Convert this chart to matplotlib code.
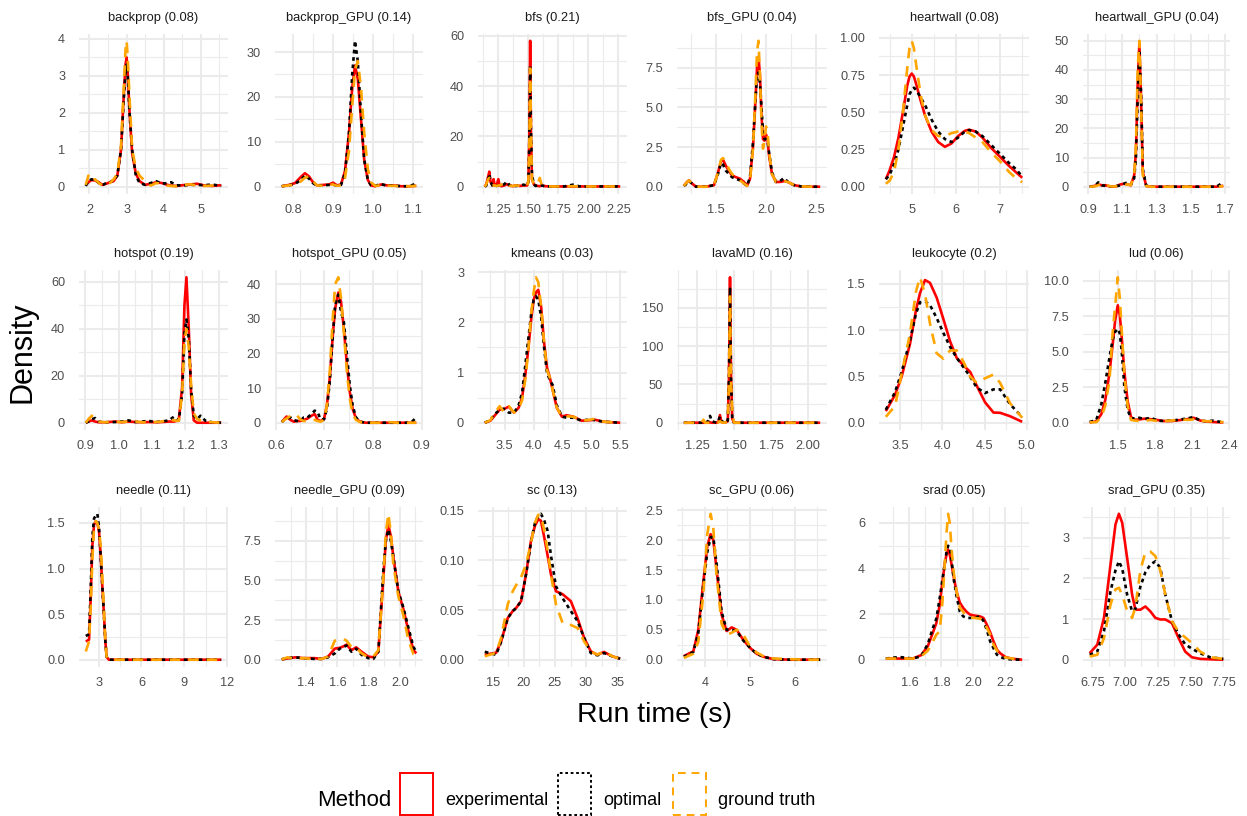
import matplotlib
matplotlib.use("Agg")
import matplotlib.pyplot as plt
from matplotlib.patches import Rectangle

plt.rcParams['font.family'] = ['Liberation Sans', 'DejaVu Sans']

# ---------------------------------------------------------------- data
benchmarks = ["backprop", "backprop_GPU", "bfs", "bfs_GPU", "heartwall", "heartwall_GPU",
              "hotspot", "hotspot_GPU", "kmeans", "lavaMD", "leukocyte", "lud",
              "needle", "needle_GPU", "sc", "sc_GPU", "srad", "srad_GPU"]
scores = ["0.08", "0.14", "0.21", "0.04", "0.08", "0.04",
          "0.19", "0.05", "0.03", "0.16", "0.2", "0.06",
          "0.11", "0.09", "0.13", "0.06", "0.05", "0.35"]
methods = ["experimental", "optimal", "ground truth"]

backprop_x = [1.9, 1.97, 2.05, 2.15, 2.25, 2.35, 2.45, 2.55, 2.65, 2.75, 2.85, 2.92, 2.97, 3.0, 3.03, 3.08,
              3.15, 3.25, 3.35, 3.5, 3.65, 3.8, 3.95, 4.1, 4.2, 4.35, 4.5, 4.7, 4.9, 5.1, 5.3, 5.55]
backprop_exp = [0.05, 0.12, 0.18, 0.17, 0.12, 0.05, 0.08, 0.12, 0.15, 0.3, 1.0, 2.4, 3.3, 3.5, 3.1, 2.0,
                0.9, 0.35, 0.15, 0.05, 0.08, 0.12, 0.1, 0.05, 0.03, 0.02, 0.04, 0.06, 0.08, 0.03, 0.02, 0.04]
backprop_opt = [0.02, 0.15, 0.2, 0.18, 0.1, 0.04, 0.1, 0.12, 0.18, 0.3, 1.0, 2.3, 3.1, 3.3, 3.0, 2.0,
                1.0, 0.3, 0.1, 0.05, 0.1, 0.15, 0.08, 0.1, 0.12, 0.04, 0.03, 0.05, 0.05, 0.04, 0.06, 0.02]
backprop_gt = [0.05, 0.3, 0.15, 0.2, 0.1, 0.03, 0.05, 0.1, 0.2, 0.35, 1.1, 2.6, 3.7, 3.95, 3.5, 2.4,
               1.0, 0.5, 0.3, 0.15, 0.03, 0.1, 0.08, 0.03, 0.02, 0.01, 0.03, 0.07, 0.03, 0.02, 0.03, 0.02]

backpropgpu_x = [0.772, 0.79, 0.805, 0.82, 0.83, 0.84, 0.85, 0.86, 0.875, 0.89, 0.9, 0.91, 0.92, 0.93, 0.94,
                 0.948, 0.955, 0.962, 0.97, 0.978, 0.987, 0.995, 1.005, 1.02, 1.035, 1.05, 1.07, 1.09, 1.108]
backpropgpu_exp = [0.1, 0.4, 0.8, 2.2, 3.0, 2.3, 1.0, 0.3, 0.4, 0.5, 0.9, 0.3, 0.5, 3.5, 12,
                   22, 27, 24, 15, 6, 1.5, 0.3, 0.1, 0.5, 0.3, 0.3, 0.1, 0.1, 0.2]
backpropgpu_opt = [0.1, 0.3, 0.6, 1.5, 2.5, 1.8, 0.8, 0.2, 0.3, 0.4, 0.5, 0.2, 0.4, 3.0, 12,
                   25, 32.5, 28, 16, 6, 1.5, 0.3, 0.2, 0.6, 0.2, 0.3, 0.1, 0.1, 0.7]
backpropgpu_gt = [0.1, 0.3, 0.5, 1.2, 2.0, 2.3, 1.2, 0.3, 0.2, 0.4, 0.5, 0.2, 0.3, 2.0, 8,
                  18, 26, 28, 22, 12, 4, 1.0, 0.2, 0.3, 0.2, 0.2, 0.1, 0.1, 0.2]

bfs_x = [1.137, 1.15, 1.165, 1.175, 1.185, 1.2, 1.21, 1.22, 1.235, 1.25, 1.26, 1.275, 1.3, 1.32, 1.34, 1.37,
         1.4, 1.43, 1.46, 1.49, 1.5, 1.508, 1.515, 1.522, 1.53, 1.545, 1.56, 1.58, 1.595, 1.61, 1.64, 1.7,
         1.8, 1.87, 1.93, 2.0, 2.1, 2.2, 2.265]
bfs_exp = [0, 1, 4, 6, 2, 0.5, 3, 0.5, 0.5, 3, 0.5, 0.2, 0.5, 1, 0.5, 0.2,
           0.5, 0.3, 0.5, 0.5, 2, 20, 58, 20, 3, 1, 0.5, 0.3, 0.2, 0.5, 0.2, 0.1,
           0.1, 0.1, 0.1, 0.1, 0.1, 0.1, 0.1]
bfs_opt = [0, 0.5, 3, 5, 2, 0.5, 0.8, 0.5, 0.3, 0.5, 0.3, 0.5, 1, 2, 0.8, 0.2,
           0.3, 0.5, 0.8, 0.5, 2, 18, 48, 22, 5, 1, 0.3, 0.5, 0.3, 0.5, 0.2, 0.1,
           0.1, 0.8, 0.1, 0.1, 0.1, 0.1, 0.1]
bfs_gt = [0, 1, 3, 3.5, 1.5, 0.5, 0.5, 0.5, 0.3, 0.5, 0.5, 0.8, 1.5, 1.5, 0.5, 0.3,
          0.5, 0.3, 0.5, 0.5, 2, 16, 47, 20, 3, 1, 0.5, 1.5, 3.5, 0.8, 0.2, 0.1,
          0.1, 0.2, 0.1, 0.1, 0.1, 0.1, 0.1]

bfsgpu_x = [1.178, 1.21, 1.23, 1.26, 1.3, 1.4, 1.48, 1.52, 1.55, 1.57, 1.6, 1.63, 1.66, 1.7, 1.74, 1.78,
            1.81, 1.84, 1.87, 1.895, 1.91, 1.925, 1.94, 1.955, 1.97, 1.985, 2.0, 2.015, 2.03, 2.06, 2.1,
            2.14, 2.18, 2.22, 2.28, 2.35, 2.45, 2.542]
bfsgpu_exp = [0.05, 0.3, 0.4, 0.2, 0, 0, 0.1, 0.9, 1.6, 1.7, 1.3, 1.0, 0.7, 0.6, 0.5, 0.3,
              0.05, 0.5, 2.5, 5.5, 7.5, 8.2, 7.0, 4.5, 3.0, 2.9, 3.3, 3.0, 2.0, 0.8, 0.3,
              0.3, 0.35, 0.3, 0.1, 0.02, 0, 0]
bfsgpu_opt = [0.05, 0.2, 0.35, 0.2, 0, 0, 0.1, 0.8, 1.5, 1.4, 1.0, 0.8, 0.6, 0.5, 0.4, 0.2,
              0.05, 0.6, 2.8, 5.5, 7.0, 7.2, 6.5, 5.0, 3.5, 3.0, 3.0, 2.9, 2.2, 0.9, 0.3,
              0.35, 0.55, 0.3, 0.1, 0.02, 0, 0]
bfsgpu_gt = [0.05, 0.3, 0.4, 0.2, 0, 0, 0.1, 0.9, 1.7, 1.8, 1.5, 1.1, 0.8, 0.6, 0.4, 0.2,
             0.05, 0.4, 2.4, 6.0, 8.5, 9.2, 7.0, 4.0, 2.4, 3.0, 3.8, 3.5, 2.2, 0.8, 0.3,
             0.3, 0.35, 0.3, 0.1, 0.02, 0, 0]

heartwall_x = [4.414, 4.5, 4.6, 4.7, 4.8, 4.9, 4.95, 5.0, 5.05, 5.1, 5.2, 5.3, 5.45, 5.6, 5.75, 5.9,
               6.05, 6.2, 6.3, 6.45, 6.6, 6.8, 7.0, 7.2, 7.35, 7.5]
heartwall_exp = [0.05, 0.11, 0.2, 0.33, 0.5, 0.68, 0.74, 0.76, 0.74, 0.69, 0.58, 0.48, 0.37, 0.3, 0.268, 0.29,
                 0.34, 0.375, 0.383, 0.37, 0.33, 0.26, 0.2, 0.14, 0.1, 0.06]
heartwall_opt = [0.05, 0.08, 0.15, 0.25, 0.4, 0.55, 0.62, 0.65, 0.665, 0.65, 0.6, 0.55, 0.45, 0.37, 0.32, 0.3,
                 0.33, 0.37, 0.38, 0.37, 0.34, 0.28, 0.22, 0.16, 0.12, 0.07]
heartwall_gt = [0.02, 0.04, 0.1, 0.25, 0.5, 0.8, 0.93, 0.98, 0.93, 0.82, 0.62, 0.48, 0.38, 0.34, 0.34, 0.36,
                0.37, 0.37, 0.36, 0.33, 0.3, 0.23, 0.17, 0.1, 0.06, 0.03]

heartwallgpu_x = [0.91, 0.94, 0.96, 0.98, 1.0, 1.03, 1.06, 1.09, 1.11, 1.13, 1.15, 1.17, 1.18, 1.19, 1.2, 1.21,
                  1.22, 1.24, 1.27, 1.35, 1.45, 1.55, 1.65, 1.69]
heartwallgpu_exp = [0, 0.3, 0.8, 0.5, 0.5, 0.1, 0.1, 0.8, 1.0, 0.8, 0.5, 4, 12, 35, 49, 30,
                    5, 0.3, 0, 0, 0, 0, 0, 0.3]
heartwallgpu_opt = [0, 0.2, 1.5, 0.5, 0.3, 0.1, 0.1, 0.5, 1.0, 1.5, 0.6, 3, 10, 30, 46, 32,
                    6, 0.3, 0, 0, 0, 0, 0, 1.5]
heartwallgpu_gt = [0, 0.1, 0.5, 1.2, 0.8, 0.1, 0.1, 0.3, 0.6, 0.8, 0.5, 4, 14, 40, 50, 28,
                   4, 0.2, 0, 0, 0, 0, 0, 0.2]

hotspot_x = [0.902, 0.91, 0.92, 0.93, 0.94, 0.96, 0.99, 1.01, 1.03, 1.05, 1.07, 1.09, 1.11, 1.13, 1.15, 1.165,
             1.18, 1.19, 1.197, 1.203, 1.21, 1.217, 1.225, 1.235, 1.245, 1.26, 1.28, 1.307]
hotspot_exp = [0, 0.5, 1, 0.5, 0.2, 0.2, 0.5, 0.2, 0.5, 0.3, 0.2, 0.3, 0.2, 0.3, 0.5, 0.5,
               1, 15, 50, 62, 40, 12, 1, 0, 0, 0, 0, 0]
hotspot_opt = [0, 0.5, 1.5, 2.0, 0.5, 0.2, 0.3, 0.5, 1.0, 0.3, 0.5, 0.8, 0.3, 0.5, 1, 2.5,
               1, 12, 38, 44, 36, 14, 3, 1.5, 3, 0.8, 0.2, 0]
hotspot_gt = [0, 1.5, 3, 1.0, 0.5, 0.2, 0.3, 0.3, 0.5, 0.5, 0.2, 0.2, 0.3, 0.5, 1.5, 1.0,
              0.8, 12, 35, 40, 32, 16, 4, 1.5, 1, 0.5, 0.2, 0]

hotspotgpu_x = [0.612, 0.617, 0.622, 0.63, 0.637, 0.643, 0.65, 0.657, 0.665, 0.673, 0.68, 0.686, 0.692, 0.699,
                0.705, 0.711, 0.717, 0.722, 0.7285, 0.734, 0.74, 0.746, 0.752, 0.758, 0.765, 0.773, 0.785,
                0.81, 0.83, 0.85, 0.87, 0.88, 0.889]
hotspotgpu_exp = [0.2, 1.0, 1.8, 0.8, 0.3, 0.5, 0.5, 0.8, 1.2, 2.0, 2.5, 0.8, 0.5, 1.0,
                  5, 13, 25, 33, 37.6, 35, 27, 17, 9, 4, 1.2, 0.3, 0, 0, 0, 0, 0, 0, 0]
hotspotgpu_opt = [0.2, 0.8, 1.2, 1.5, 0.8, 0.5, 0.5, 1.5, 1.5, 2.5, 3.5, 3.0, 1.0, 1.0,
                  4, 12, 25, 34, 37, 32, 29, 20, 11, 5, 1.5, 0.3, 0, 0, 0, 0, 0, 0.3, 1.5]
hotspotgpu_gt = [0.2, 0.8, 1.2, 2.0, 2.5, 2.2, 1.0, 0.5, 0.5, 0.8, 0.8, 0.5, 0.3, 0.8,
                 5, 15, 30, 40, 42, 36, 26, 15, 7, 2.5, 0.8, 0.2, 0, 0, 0.2, 0, 0, 0, 0]

kmeans_x = [3.153, 3.25, 3.33, 3.41, 3.48, 3.57, 3.66, 3.74, 3.8, 3.86, 3.91, 3.96, 4.0, 4.04, 4.08,
            4.13, 4.18, 4.23, 4.28, 4.33, 4.4, 4.49, 4.57, 4.69, 4.83, 4.98, 5.06, 5.21, 5.35, 5.499]
kmeans_exp = [0.0, 0.04, 0.15, 0.26, 0.27, 0.32, 0.2, 0.3, 0.5, 1.0, 1.5, 2.1, 2.45, 2.6, 2.65,
              2.3, 1.6, 1.1, 0.9, 0.65, 0.3, 0.12, 0.15, 0.12, 0.04, 0.05, 0.06, 0.02, 0.01, 0.0]
kmeans_opt = [0.0, 0.05, 0.18, 0.25, 0.28, 0.2, 0.2, 0.35, 0.6, 1.2, 1.7, 2.2, 2.45, 2.52, 2.45,
              2.1, 1.5, 1.0, 0.85, 0.75, 0.35, 0.12, 0.1, 0.1, 0.04, 0.07, 0.05, 0.02, 0.01, 0.0]
kmeans_gt = [0.0, 0.05, 0.2, 0.33, 0.22, 0.33, 0.2, 0.28, 0.45, 0.9, 1.5, 2.2, 2.6, 2.9, 2.8,
             2.3, 1.6, 1.05, 0.9, 0.65, 0.3, 0.12, 0.13, 0.12, 0.04, 0.06, 0.08, 0.02, 0.01, 0.0]

lavamd_x = [1.161, 1.25, 1.28, 1.293, 1.305, 1.325, 1.338, 1.35, 1.38, 1.395, 1.405, 1.415, 1.44, 1.458,
            1.466, 1.473, 1.48, 1.488, 1.5, 1.55, 1.7, 1.9, 2.082]
lavamd_exp = [0, 0, 0, 0, 0, 0, 0.5, 0, 0, 1, 10, 1, 0, 2, 60, 190, 60, 5, 0, 0, 0, 0, 0]
lavamd_opt = [0, 0, 0, 0.5, 0, 2, 9, 2, 0, 3, 8, 2, 0, 3, 60, 175, 55, 5, 0, 0, 0, 0, 0]
lavamd_gt = [0, 0, 0, 4, 0, 0, 0, 0, 0, 0.5, 2, 0.5, 0, 3, 55, 165, 50, 15, 0, 0, 0, 0, 0]

leukocyte_x = [3.332, 3.441, 3.520, 3.618, 3.690, 3.737, 3.796, 3.855, 3.934, 4.013, 4.092, 4.171, 4.250,
               4.329, 4.408, 4.507, 4.606, 4.685, 4.803, 4.946]
leukocyte_exp = [0.125, 0.3, 0.5, 0.85, 1.22, 1.4, 1.54, 1.51, 1.35, 1.12, 0.88, 0.7, 0.62,
                 0.55, 0.4, 0.22, 0.11, 0.107, 0.07, 0.01]
leukocyte_opt = [0.14, 0.33, 0.55, 0.89, 1.18, 1.3, 1.31, 1.27, 1.13, 0.97, 0.82, 0.7, 0.6,
                 0.5, 0.38, 0.32, 0.36, 0.36, 0.2, 0.06]
leukocyte_gt = [0.064, 0.18, 0.53, 0.96, 1.42, 1.57, 1.39, 1.07, 0.75, 0.69, 0.78, 0.78, 0.66,
                0.5, 0.43, 0.48, 0.52, 0.43, 0.21, 0.053]

lud_x = [1.273, 1.327, 1.367, 1.399, 1.433, 1.46, 1.479, 1.5, 1.516, 1.532, 1.553, 1.58, 1.607, 1.639,
         1.673, 1.713, 1.767, 1.82, 1.873, 1.94, 2.007, 2.06, 2.113, 2.167, 2.22, 2.273, 2.313, 2.353]
lud_exp = [0.02, 0.1, 0.6, 1.6, 3.5, 5.6, 7.2, 8.26, 7.6, 6.0, 3.6, 1.5, 0.4, 0.2,
           0.23, 0.28, 0.25, 0.19, 0.12, 0.12, 0.19, 0.25, 0.35, 0.15, 0.08, 0.05, 0.03, 0.02]
lud_opt = [0.05, 0.2, 1.3, 2.8, 4.6, 5.9, 6.4, 6.6, 6.3, 5.0, 2.56, 0.9, 0.3, 0.3,
           0.35, 0.25, 0.35, 0.15, 0.12, 0.15, 0.23, 0.3, 0.4, 0.15, 0.1, 0.15, 0.08, 0.05]
lud_gt = [0.03, 0.04, 0.4, 1.2, 3.0, 6.5, 8.2, 10.23, 8.8, 6.5, 3.4, 1.16, 0.2, 0.15,
          0.12, 0.15, 0.19, 0.12, 0.12, 0.15, 0.23, 0.2, 0.23, 0.15, 0.1, 0.1, 0.06, 0.05]

needle_x = [2.1, 2.33, 2.45, 2.56, 2.68, 2.8, 2.91, 3.03, 3.14, 3.26, 3.37, 3.47, 3.56, 3.72, 5, 7, 9, 11.58]
needle_exp = [0.2, 0.22, 0.7, 1.25, 1.48, 1.52, 1.5, 1.4, 1.15, 0.8, 0.5, 0.2, 0.03, 0, 0, 0, 0, 0]
needle_opt = [0.26, 0.28, 0.8, 1.35, 1.55, 1.58, 1.6, 1.45, 1.15, 0.8, 0.5, 0.2, 0.03, 0, 0, 0, 0, 0]
needle_gt = [0.09, 0.2, 0.6, 1.1, 1.45, 1.52, 1.5, 1.42, 1.25, 0.9, 0.55, 0.2, 0.03, 0, 0, 0, 0, 0]

needlegpu_x = [1.243, 1.28, 1.33, 1.38, 1.45, 1.5, 1.54, 1.583, 1.615, 1.64, 1.658, 1.69, 1.72, 1.755,
               1.797, 1.83, 1.862, 1.893, 1.91, 1.926, 1.942, 1.958, 1.99, 2.022, 2.055, 2.087, 2.105]
needlegpu_exp = [0.02, 0.08, 0.15, 0.1, 0.1, 0.05, 0.2, 0.7, 0.75, 0.85, 0.95, 0.6, 0.78, 0.5,
                 0.2, 0.15, 0.5, 5.0, 7.5, 8.5, 7.8, 6.5, 4.3, 3.2, 1.8, 0.6, 0.4]
needlegpu_opt = [0.02, 0.1, 0.15, 0.1, 0.05, 0.05, 0.15, 0.4, 0.7, 0.8, 0.9, 0.5, 0.7, 0.3,
                 0.1, 0.05, 0.5, 5.5, 7.5, 8.2, 7.5, 6.5, 4.3, 3.3, 2.0, 0.8, 0.5]
needlegpu_gt = [0.02, 0.15, 0.05, 0.1, 0.05, 0.05, 0.2, 1.2, 1.25, 1.3, 1.2, 0.8, 0.75, 0.4,
                0.15, 0.2, 0.6, 5.0, 8.0, 9.2, 8.0, 6.0, 4.0, 2.8, 1.2, 0.35, 0.3]

sc_x = [13.7, 15.53, 16.33, 17.40, 18.20, 18.74, 19.54, 20.34, 21.14, 21.78, 22.31, 22.74, 23.28, 23.81,
        24.35, 25.15, 26.22, 27.55, 28.62, 29.69, 30.76, 31.82, 32.89, 34.23, 35.5]
sc_exp = [0.005, 0.007, 0.0185, 0.042, 0.049, 0.052, 0.059, 0.086, 0.12, 0.135, 0.1416, 0.14, 0.123, 0.105,
          0.086, 0.069, 0.066, 0.059, 0.042, 0.022, 0.0084, 0.005, 0.0078, 0.0034, 0.001]
sc_opt = [0.008, 0.005, 0.018, 0.042, 0.049, 0.052, 0.059, 0.086, 0.118, 0.138, 0.145, 0.147, 0.14, 0.13,
          0.105, 0.074, 0.062, 0.049, 0.039, 0.022, 0.0067, 0.0044, 0.0067, 0.0034, 0.001]
sc_gt = [0.0034, 0.007, 0.022, 0.056, 0.069, 0.075, 0.083, 0.096, 0.118, 0.138, 0.146, 0.145, 0.13, 0.11,
         0.086, 0.056, 0.037, 0.035, 0.032, 0.0185, 0.0084, 0.005, 0.0084, 0.0034, 0.001]

scgpu_x = [3.53, 3.741, 3.852, 3.963, 4.052, 4.126, 4.185, 4.259, 4.37, 4.481, 4.593, 4.704, 4.852, 5.0,
           5.148, 5.296, 5.519, 5.889, 6.185, 6.56]
scgpu_exp = [0.06, 0.14, 0.5, 1.3, 1.9, 2.1, 2.0, 1.5, 0.75, 0.48, 0.54, 0.5, 0.33, 0.2,
             0.1, 0.05, 0.01, 0.0, 0.0, 0.0]
scgpu_opt = [0.05, 0.13, 0.45, 1.25, 1.8, 2.05, 2.05, 1.6, 0.8, 0.5, 0.5, 0.48, 0.32, 0.2,
             0.1, 0.05, 0.01, 0.0, 0.0, 0.0]
scgpu_gt = [0.03, 0.1, 0.3, 1.1, 2.1, 2.44, 2.2, 1.4, 0.6, 0.42, 0.45, 0.5, 0.42, 0.22,
            0.12, 0.06, 0.02, 0.01, 0.0, 0.0]

srad_x = [1.4526, 1.5368, 1.6211, 1.6737, 1.7158, 1.7474, 1.7684, 1.7895, 1.8063, 1.8211, 1.8316, 1.8421,
          1.8526, 1.8632, 1.8779, 1.8947, 1.9158, 1.9368, 1.9579, 1.9789, 2.0105, 2.0421, 2.0632, 2.0842,
          2.1053, 2.1263, 2.1474, 2.1684, 2.2, 2.2421, 2.3053]
srad_exp = [0.05, 0.05, 0.05, 0.2, 0.6, 1.2, 1.6, 2.4, 3.4, 4.2, 4.6, 4.83,
            4.6, 4.2, 3.6, 3.0, 2.5, 2.27, 2.1, 1.98, 1.93, 1.9, 1.83, 1.54,
            1.2, 0.8, 0.44, 0.28, 0.12, 0.04, 0.0]
srad_opt = [0.05, 0.12, 0.05, 0.15, 0.7, 1.4, 1.8, 2.7, 3.5, 4.2, 4.7, 5.0,
            4.9, 4.4, 3.5, 2.8, 2.1, 1.9, 1.83, 1.83, 1.85, 1.9, 1.7, 1.3,
            0.8, 0.5, 0.22, 0.12, 0.04, 0.01, 0.0]
srad_gt = [0.05, 0.05, 0.05, 0.15, 0.4, 0.8, 1.1, 1.24, 2.5, 4.2, 5.5, 6.4,
           6.0, 4.9, 3.8, 3.0, 2.27, 2.1, 1.9, 1.85, 1.83, 1.8, 1.68, 1.4,
           1.1, 0.66, 0.4, 0.22, 0.1, 0.05, 0.02]

sradgpu_x = [6.73, 6.788, 6.839, 6.889, 6.927, 6.953, 6.978, 7.016, 7.054, 7.079, 7.117, 7.155, 7.193,
             7.231, 7.269, 7.307, 7.358, 7.409, 7.459, 7.51, 7.573, 7.649, 7.75]
sradgpu_exp = [0.16, 0.37, 1.03, 2.34, 3.33, 3.59, 3.37, 2.5, 1.6, 1.23, 1.23, 1.31, 1.19,
               1.03, 0.99, 0.99, 0.9, 0.53, 0.2, 0.06, 0.02, 0.01, 0.0]
sradgpu_opt = [0.12, 0.2, 0.7, 1.68, 2.2, 2.42, 2.25, 1.6, 1.19, 1.25, 1.8, 2.15, 2.34,
               2.42, 2.26, 1.6, 0.95, 0.62, 0.38, 0.27, 0.16, 0.06, 0.02]
sradgpu_gt = [0.08, 0.12, 0.53, 1.36, 1.73, 1.77, 1.6, 1.2, 1.03, 1.3, 2.2, 2.65, 2.66,
              2.55, 2.2, 1.6, 0.95, 0.68, 0.55, 0.41, 0.2, 0.06, 0.02]

# axis breaks (tick values) for every facet
x_breaks = [[2, 3, 4, 5], [0.8, 0.9, 1.0, 1.1], [1.25, 1.5, 1.75, 2.0, 2.25], [1.5, 2.0, 2.5],
            [5, 6, 7], [0.9, 1.1, 1.3, 1.5, 1.7],
            [0.9, 1.0, 1.1, 1.2, 1.3], [0.6, 0.7, 0.8, 0.9], [3.5, 4.0, 4.5, 5.0, 5.5],
            [1.25, 1.5, 1.75, 2.0], [3.5, 4.0, 4.5, 5.0], [1.5, 1.8, 2.1, 2.4],
            [3, 6, 9, 12], [1.4, 1.6, 1.8, 2.0], [15, 20, 25, 30, 35], [4, 5, 6],
            [1.6, 1.8, 2.0, 2.2], [6.75, 7.0, 7.25, 7.5, 7.75]]
y_breaks = [[0, 1, 2, 3, 4], [0, 10, 20, 30], [0, 20, 40, 60], [0, 2.5, 5, 7.5],
            [0, 0.25, 0.5, 0.75, 1.0], [0, 10, 20, 30, 40, 50],
            [0, 20, 40, 60], [0, 10, 20, 30, 40], [0, 1, 2, 3], [0, 50, 100, 150],
            [0, 0.5, 1.0, 1.5], [0, 2.5, 5, 7.5, 10],
            [0, 0.5, 1.0, 1.5], [0, 2.5, 5, 7.5], [0, 0.05, 0.1, 0.15], [0, 0.5, 1, 1.5, 2, 2.5],
            [0, 2, 4, 6], [0, 1, 2, 3]]

series = [
    (backprop_x, backprop_exp, backprop_opt, backprop_gt),
    (backpropgpu_x, backpropgpu_exp, backpropgpu_opt, backpropgpu_gt),
    (bfs_x, bfs_exp, bfs_opt, bfs_gt),
    (bfsgpu_x, bfsgpu_exp, bfsgpu_opt, bfsgpu_gt),
    (heartwall_x, heartwall_exp, heartwall_opt, heartwall_gt),
    (heartwallgpu_x, heartwallgpu_exp, heartwallgpu_opt, heartwallgpu_gt),
    (hotspot_x, hotspot_exp, hotspot_opt, hotspot_gt),
    (hotspotgpu_x, hotspotgpu_exp, hotspotgpu_opt, hotspotgpu_gt),
    (kmeans_x, kmeans_exp, kmeans_opt, kmeans_gt),
    (lavamd_x, lavamd_exp, lavamd_opt, lavamd_gt),
    (leukocyte_x, leukocyte_exp, leukocyte_opt, leukocyte_gt),
    (lud_x, lud_exp, lud_opt, lud_gt),
    (needle_x, needle_exp, needle_opt, needle_gt),
    (needlegpu_x, needlegpu_exp, needlegpu_opt, needlegpu_gt),
    (sc_x, sc_exp, sc_opt, sc_gt),
    (scgpu_x, scgpu_exp, scgpu_opt, scgpu_gt),
    (srad_x, srad_exp, srad_opt, srad_gt),
    (sradgpu_x, sradgpu_exp, sradgpu_opt, sradgpu_gt),
]

# ---------------------------------------------------------------- style / layout
W, H, DPI = 1247, 816, 100
col_left = [79, 275, 478, 677, 879, 1083]
col_right = [228, 423, 627, 827, 1029, 1230]
row_top = [33.5, 270, 506.5]
row_bottom = [194, 430, 667]

colors = ["#FF0000", "#000000", "#FFA500"]
styles = ["-", (0, (1.4, 1.4)), (0, (4.0, 3.0))]
LW = 1.9
GRID = "#EBEBEB"


def fmt(ticks):
    d = 0
    for d in range(0, 4):
        if all(abs(round(t, d) - t) < 1e-9 for t in ticks):
            break
    return [f"{t:.{d}f}" for t in ticks]


def minor_breaks(ticks, lo, hi):
    step = ticks[1] - ticks[0]
    m = [ticks[0] - step / 2] + [(a + b) / 2 for a, b in zip(ticks[:-1], ticks[1:])] + [ticks[-1] + step / 2]
    return [v for v in m if lo <= v <= hi]


fig = plt.figure(figsize=(W / DPI, H / DPI), dpi=DPI)
fig.patch.set_facecolor("white")

for i, (xs, e, o, g) in enumerate(series):
    r, c = divmod(i, 6)
    l, rt = col_left[c], col_right[c]
    t, b = row_top[r], row_bottom[r]
    ax = fig.add_axes([l / W, 1 - b / H, (rt - l) / W, (b - t) / H])
    for ys, col, ls in zip((e, o, g), colors, styles):
        ax.plot(xs, ys, color=col, linestyle=ls, lw=LW, solid_capstyle="butt",
                dash_capstyle="butt")
    x0, x1 = min(xs), max(xs)
    xr = x1 - x0
    ymax = max(max(e), max(o), max(g))
    xlo, xhi = x0 - 0.05 * xr, x1 + 0.05 * xr
    ylo, yhi = -0.05 * ymax, 1.05 * ymax
    ax.set_xlim(xlo, xhi)
    ax.set_ylim(ylo, yhi)
    xb, yb = x_breaks[i], y_breaks[i]
    ax.set_xticks(xb)
    ax.set_xticklabels(fmt(xb))
    ax.set_yticks(yb)
    ax.set_yticklabels(fmt(yb))
    ax.set_xticks(minor_breaks(xb, xlo, xhi), minor=True)
    ax.set_yticks(minor_breaks(yb, ylo, yhi), minor=True)
    ax.grid(which="major", color=GRID, lw=1.5)
    ax.grid(which="minor", color=GRID, lw=0.8)
    ax.set_axisbelow(True)
    ax.tick_params(which="both", length=0)
    ax.tick_params(axis="x", pad=7.5, labelsize=9.2, labelcolor="#4D4D4D")
    ax.tick_params(axis="y", pad=10, labelsize=9.2, labelcolor="#4D4D4D")
    for s in ax.spines.values():
        s.set_visible(False)
    ax.set_facecolor("white")
    ax.set_title(f"{benchmarks[i]} ({scores[i]})", fontsize=9.3, color="#1A1A1A", pad=9)

# axis titles
fig.text(654.5 / W, 1 - 722 / H, "Run time (s)", ha="center", va="baseline", fontsize=20.5)
fig.text(23 / W, 1 - 352 / H, "Density", ha="center", va="center", rotation=90, fontsize=22)

# legend
fig.text(317 / W, 1 - 806 / H, "Method", ha="left", va="baseline", fontsize=16)
key_left = [400, 558.3, 673.3]
label_left = [445, 603.3, 718.3]
for k in range(3):
    rect = Rectangle((key_left[k] / W, 1 - 815 / H), 33 / W, 42 / H, transform=fig.transFigure,
                     fill=False, edgecolor=colors[k], linestyle=styles[k], lw=1.4)
    fig.add_artist(rect)
    fig.text(label_left[k] / W, 1 - 805 / H, methods[k], ha="left", va="baseline", fontsize=13)

fig.savefig("out.png", dpi=DPI, facecolor="white")
